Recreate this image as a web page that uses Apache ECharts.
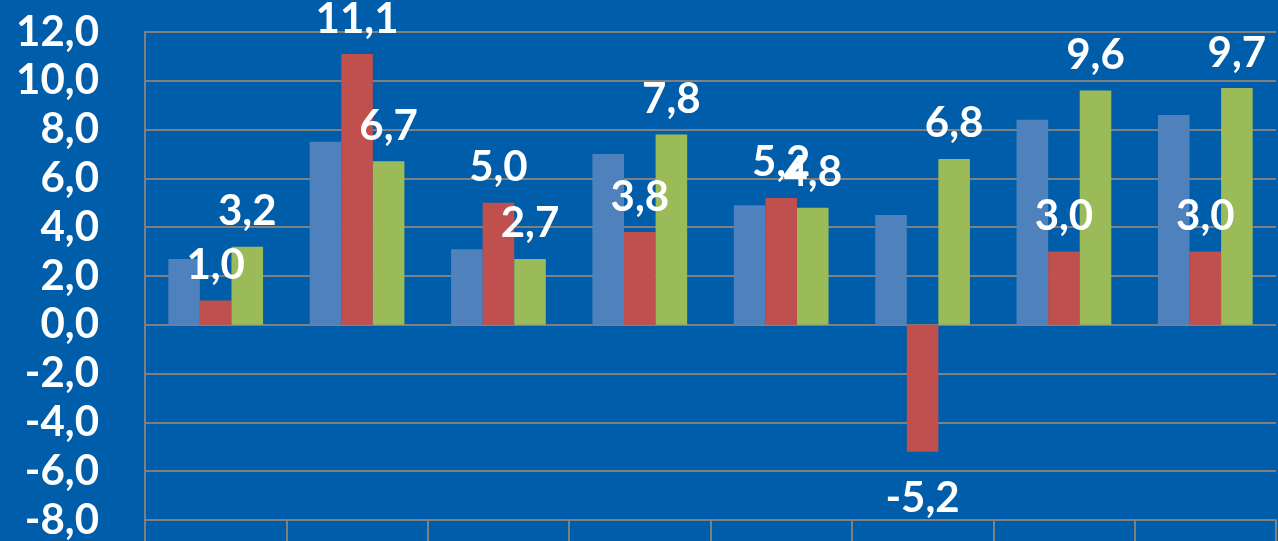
<!DOCTYPE html>
<html>
<head>
<meta charset="utf-8">
<script src="https://cdn.jsdelivr.net/npm/echarts@6/dist/echarts.min.js"></script>
<style>
html,body{margin:0;padding:0;background:#005DA9;}
#chart{width:1278px;height:541px;}
</style>
</head>
<body>
<div id="chart"></div>
<script>
var categories = ['1', '2', '3', '4', '5', '6', '7', '8'];
var seriesBlue = [2.7, 7.5, 3.1, 7.0, 4.9, 4.5, 8.4, 8.6];
var seriesRed = [1.0, 11.1, 5.0, 3.8, 5.2, -5.2, 3.0, 3.0];
var seriesGreen = [3.2, 6.7, 2.7, 7.8, 4.8, 6.8, 9.6, 9.7];
var yTicks = { min: -8, max: 12, interval: 2 };

function fmt(v) { return v.toFixed(1).replace('.', ','); }

var labelStyle = {
  show: true,
  position: 'outside',
  distance: 14,
  color: '#ffffff',
  fontFamily: 'Lato',
  fontWeight: 'bold',
  fontSize: 42,
  formatter: function (p) { return fmt(p.value); }
};

function withLabels(values) {
  return values.map(function (v) {
    return v < 0 ? { value: v, label: { distance: 26 } } : v;
  });
}

var chart = echarts.init(document.getElementById('chart'));
chart.setOption({
  backgroundColor: '#005DA9',
  animation: false,
  grid: { left: 145, right: 2, top: 32, bottom: 21, containLabel: false },
  xAxis: {
    type: 'category',
    data: categories,
    position: 'bottom',
    axisLine: { show: true, onZero: false, lineStyle: { color: '#808080', width: 2 } },
    axisTick: { show: true, length: 25, lineStyle: { color: '#808080', width: 2 } },
    axisLabel: { show: false },
    splitLine: { show: false }
  },
  yAxis: {
    type: 'value',
    min: yTicks.min,
    max: yTicks.max,
    interval: yTicks.interval,
    axisLine: { show: true, lineStyle: { color: '#808080', width: 2 } },
    axisTick: { show: false },
    splitLine: { show: true, lineStyle: { color: '#808080', width: 2 } },
    axisLabel: {
      color: '#ffffff',
      fontFamily: 'Lato',
      fontWeight: 'bold',
      fontSize: 42,
      margin: 46,
      formatter: function (v) { return fmt(v); }
    }
  },
  series: [
    { type: 'bar', data: seriesBlue, itemStyle: { color: '#4F81BD' }, barGap: '0%', barCategoryGap: '33%' },
    { type: 'bar', data: withLabels(seriesRed), itemStyle: { color: '#C0504D' }, label: labelStyle, barGap: '0%', barCategoryGap: '33%' },
    { type: 'bar', data: withLabels(seriesGreen), itemStyle: { color: '#9BBB59' }, label: labelStyle, barGap: '0%', barCategoryGap: '33%' }
  ]
});
</script>
</body>
</html>
